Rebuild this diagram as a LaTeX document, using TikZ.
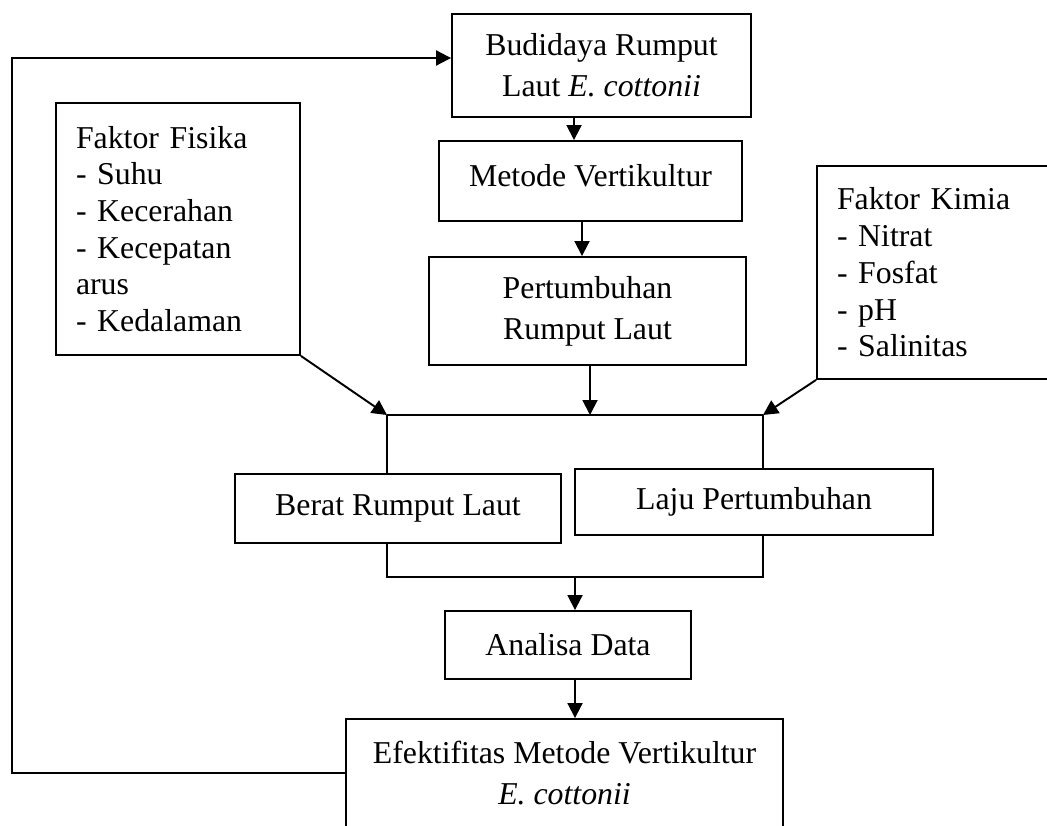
\documentclass[tikz,border=0pt]{standalone}
\usepackage{fontspec}
\setmainfont{Liberation Serif}
\usepackage{tikz}
\usetikzlibrary{arrows.meta}
\tikzstyle{box}=[draw, align=center, inner sep=0pt]
\tikzstyle{list}=[draw, align=left, inner xsep=0.4cm, inner ysep=0pt, font=\fontsize{18.1}{20.9}\selectfont]

\begin{document}
\begin{tikzpicture}[x=0.02cm,y=-0.02cm,>={Triangle[length=3mm,width=3mm]},line width=1.1pt,font=\fontsize{18.1}{23.2}\selectfont]
		    \useasboundingbox (0,0) rectangle (1047,825);
		    \node [box,minimum width=5.98cm,minimum height=2.06cm] (bud) at (601.5,65.5) {Budidaya Rumput\\Laut \textit{E. cottonii}};
		    \node [box,minimum width=6.06cm,minimum height=1.60cm,text depth=0.6em] (met) at (590.5,181) {Metode Vertikultur};
		    \node [box,minimum width=6.34cm,minimum height=2.16cm] (per) at (587.5,311) {Pertumbuhan\\Rumput Laut};
		    \node [list,text width=4.08cm,minimum height=5.04cm] (fis) at (178,229) {Faktor Fisika\\- Suhu\\- Kecerahan\\- Kecepatan\\arus\\- Kedalaman};
		    \node [list,text width=3.90cm,minimum height=4.26cm] (kim) at (934.5,272.5) {Faktor Kimia\\- Nitrat\\- Fosfat\\- pH\\- Salinitas};
		    \node [box,minimum width=6.52cm,minimum height=1.38cm] (berat) at (398,508.5) {Berat Rumput Laut};
		    \node [box,minimum width=7.16cm,minimum height=1.32cm] (laju) at (754,502) {Laju Pertumbuhan};
		    \node [box,minimum width=4.92cm,minimum height=1.36cm] (ana) at (568,645) {Analisa Data};
		    \node [box,minimum width=8.74cm,minimum height=2.16cm] (efek) at (564.5,773) {Efektifitas Metode Vertikultur\\\textit{E. cottonii}};
		    % titik bantu
		    \coordinate (a1) at ([xshift=-0.55cm]bud.south);
		    \coordinate (a2) at ([xshift=-0.17cm]met.south);
		    \coordinate (a3) at ([xshift=0.05cm]per.south);
		    \coordinate (tl) at (387,415);
		    \coordinate (tr) at (763,415);
		    \coordinate (bl) at (387,577);
		    \coordinate (br) at (763,577);
		    \coordinate (bm) at (575,577);
		    \coordinate (fb) at (12,58);
		    \path[->]
		    (a1) edge (a1 |- met.north)
		    (a2) edge (a2 |- per.north)
		    (a3) edge (a3 |- tl)
		    (fis.south east) edge (tl)
		    (kim.south west) edge (tr)
		    (bm) edge (bm |- ana.north)
		    (bm |- ana.south) edge (bm |- efek.north);
		    \draw (tl) -- (tr);
		    \draw (tl) -- (tl |- berat.north);
		    \draw (tr) -- (tr |- laju.north);
		    \draw (bl |- berat.south) -- (bl) -- (br) -- (br |- laju.south);
		    \draw[->] (efek.west) -| (fb) -- (fb -| bud.west);
		\end{tikzpicture}
\end{document}
